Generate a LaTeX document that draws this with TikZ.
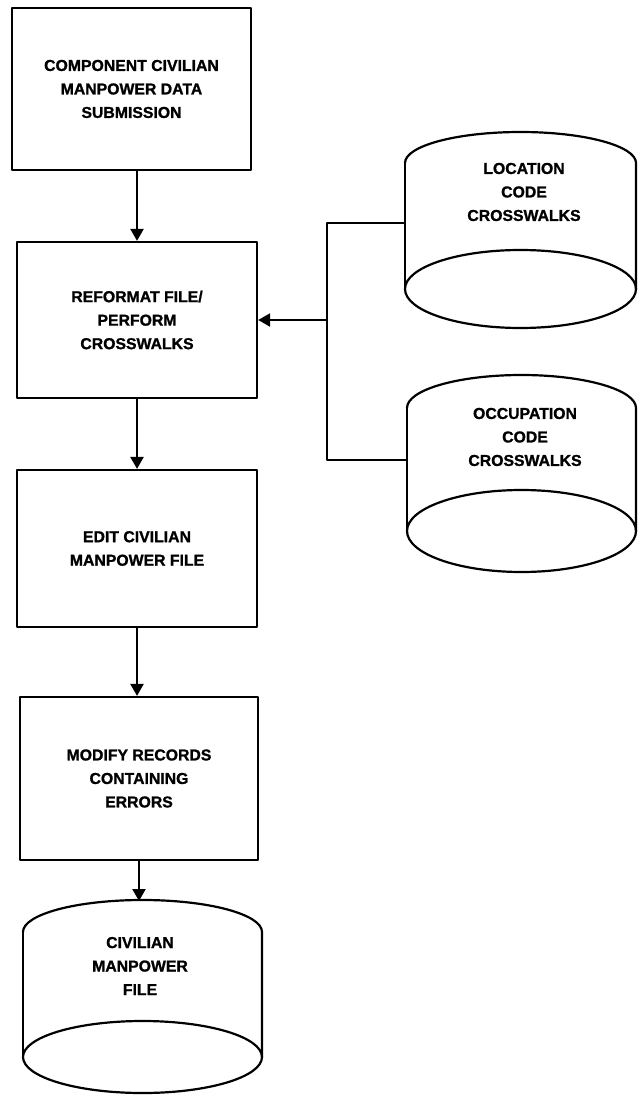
\documentclass[tikz,border=0pt]{standalone}
\usepackage{fontspec}
\setmainfont{Liberation Sans}[BoldFeatures={FakeBold=1.2}]
\usetikzlibrary{arrows.meta}
\begin{document}
\begin{tikzpicture}[x=1pt,y=-1pt,
  line/.style={line width=2.2pt, line join=round},
  procbox/.style={line, draw, rectangle, align=center, inner sep=0pt,
    font=\bfseries\fontsize{15.8}{23.5}\selectfont},
  cyltext/.style={align=center, inner sep=0pt,
    font=\bfseries\fontsize{15.8}{23.5}\selectfont},
  arr/.style={line, -{Triangle[width=13pt,length=12pt]}}]
\useasboundingbox (0,0) rectangle (637,1099);

% process boxes
\node[procbox, minimum width=239pt, minimum height=162pt] (b1) at (131.5,89)
  {COMPONENT CIVILIAN\\MANPOWER DATA\\SUBMISSION};
\node[procbox, minimum width=240pt, minimum height=156pt] (b2) at (137,320)
  {REFORMAT FILE/\\PERFORM\\CROSSWALKS};
\node[procbox, minimum width=240pt, minimum height=157pt] (b3) at (137,548.5)
  {EDIT CIVILIAN\\MANPOWER FILE};
\node[procbox, minimum width=238pt, minimum height=163pt] (b4) at (139,778.5)
  {MODIFY RECORDS\\CONTAINING\\ERRORS};

% cylinder 1: location code crosswalks
\draw[line] (405,163) arc[start angle=180, end angle=360, x radius=115.5, y radius=31] -- (636,289);
\draw[line] (405,163) -- (405,289);
\draw[line] (520.5,289) ellipse [x radius=115.5, y radius=39];
\node[cyltext] (cyl1) at (524,192) {LOCATION\\CODE\\CROSSWALKS};

% cylinder 2: occupation code crosswalks
\draw[line] (407,408) arc[start angle=180, end angle=360, x radius=114.5, y radius=33] -- (636,531);
\draw[line] (407,408) -- (407,531);
\draw[line] (521.5,531) ellipse [x radius=114.5, y radius=41];
\node[cyltext] (cyl2) at (525,437) {OCCUPATION\\CODE\\CROSSWALKS};

% cylinder 3: civilian manpower file
\draw[line] (23,932) arc[start angle=180, end angle=360, x radius=119.5, y radius=32] -- (262,1057);
\draw[line] (23,932) -- (23,1057);
\draw[line] (142.5,1057) ellipse [x radius=119.5, y radius=36];
\node[cyltext] (cyl3) at (140,966) {CIVILIAN\\MANPOWER\\FILE};

% connector points
\coordinate (c1l) at (405,223);
\coordinate (c2l) at (407,460);
\coordinate (jt) at (327,223);
\coordinate (jb) at (327,460);
\coordinate (jm) at (327,320);
\coordinate (c3top) at (139,901);

% connectors
\draw[arr] (b1.south -| b2.north) -- (b2.north);
\draw[arr] (b2.south) -- (b3.north);
\draw[arr] (b3.south) -- (b3.south |- b4.north);
\draw[arr] (b4.south -| c3top) -- (c3top);
\draw[line] (c1l) -- (jt) -- (jb) -- (c2l);
\draw[arr] (jm) -- (b2.east);
\end{tikzpicture}
\end{document}
